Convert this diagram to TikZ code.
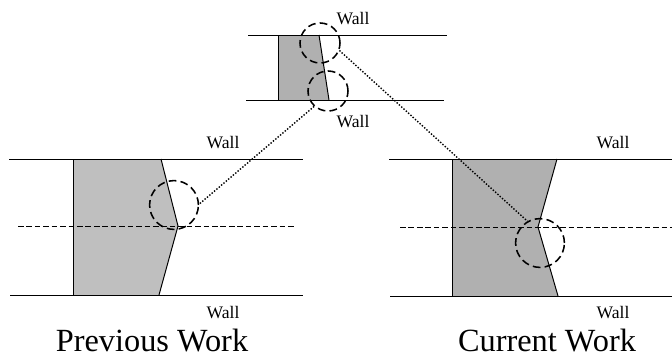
\documentclass[tikz,border=0pt]{standalone}
\usepackage{fontspec}
\setmainfont{Liberation Serif}
\tikzset{%
		wall/.style={draw,line width=.7pt},
		block/.style={draw,line width=.7pt,fill=black!31},
		blockhell/.style={draw,line width=.7pt,fill=black!25},
		mitte/.style={draw,line width=.6pt,dash pattern=on 4pt off 2pt},
		lupe/.style={circle,draw,line width=1.1pt,dash pattern=on 5.5pt off 3pt,inner sep=0pt},
		verbindung/.style={draw,line width=1pt,dash pattern=on 1pt off 1.2pt},
		wandtext/.style={inner sep=0pt,font=\fontsize{12.5}{14}\selectfont},
		titel/.style={inner sep=0pt,font=\fontsize{23}{26}\selectfont}
	}
\begin{document}
\begin{tikzpicture}[x=.025cm,y=-.025cm]
      \useasboundingbox (0,0) rectangle (672,355);
      % oben
      \fill[block,draw=none] (278,35) -- (319,35) -- (329,100) -- (278,100) -- cycle;
      \draw[wall] (278,35) -- (278,100);
      \draw[wall] (319,35) -- (329,100);
      \draw[wall] (248,35) -- (447,35);
      \draw[wall] (246,100) -- (444,100);
      \node[lupe,minimum size=1cm] (lupeoben) at (320,43) {};
      \node[lupe,minimum size=1cm] (lupeunten) at (328,91) {};
      \node[wandtext] (wall1) at (353,18.5) {Wall};
      \node[wandtext] (wall2) at (353,122) {Wall};
      % links
      \fill[blockhell,draw=none] (73,159) -- (161,159) -- (178,226) -- (159,295) -- (73,295) -- cycle;
      \draw[wall] (73,159) -- (73,295);
      \draw[wall] (161,159) -- (178,226) -- (159,295);
      \draw[wall] (9,159) -- (303,159);
      \draw[wall] (10,295) -- (303,295);
      \draw[mitte] (18,226) -- (294,226);
      \node[lupe,minimum size=1.22cm] (lupelinks) at (174,205) {};
      \node[wandtext] (wall3) at (223,143) {Wall};
      \node[wandtext] (wall4) at (223,313) {Wall};
      \node[titel] (previous) at (152,341) {Previous Work};
      % rechts
      \fill[block,draw=none] (452,159) -- (557,159) -- (538,227) -- (558,296) -- (452,296) -- cycle;
      \draw[wall] (452,159) -- (452,296);
      \draw[wall] (557,159) -- (538,227) -- (558,296);
      \draw[wall] (389,159) -- (672,159);
      \draw[wall] (390,296) -- (672,296);
      \draw[mitte] (400,227) -- (672,227);
      \node[lupe,minimum size=1.22cm] (luperechts) at (540,243) {};
      \node[wandtext] (wall5) at (613,143) {Wall};
      \node[wandtext] (wall6) at (613,313) {Wall};
      \node[titel] (current) at (547,341) {Current Work};
      % Verbindungen
      \draw[verbindung] (lupeunten.228) -- (lupelinks.2);
      \draw[verbindung] (lupeoben.-21) -- (luperechts.120);
\end{tikzpicture}
\end{document}
